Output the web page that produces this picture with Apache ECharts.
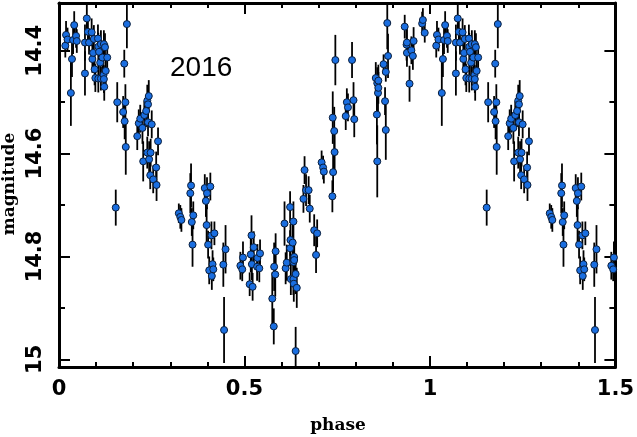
<!DOCTYPE html>
<html>
<head>
<meta charset="utf-8">
<script src="https://cdn.jsdelivr.net/npm/echarts@6/dist/echarts.min.js"></script>
<style>html,body{margin:0;padding:0;background:#fff}#c{width:637px;height:437px}</style>
</head>
<body>
<div id="c"></div>
<script>
// Observed phases (0..1), magnitudes and 1-sigma errors
const phase = [0.017,0.019,0.023,0.032,0.035,0.038,0.041,0.046,0.048,0.070,0.070,0.075,0.078,0.081,0.088,0.090,0.092,0.094,0.096,0.098,0.105,0.106,0.106,0.108,0.111,0.113,0.113,0.117,0.120,0.121,0.121,0.122,0.124,0.126,0.130,
0.153,0.157,0.173,0.176,0.177,0.179,0.180,0.183,
0.211,0.215,0.219,0.225,0.227,0.230,0.235,0.238,0.238,0.240,0.240,0.242,0.243,0.246,0.247,0.250,0.254,0.262,0.263,0.267,
0.323,0.327,0.330,0.354,0.356,0.358,0.360,0.362,0.393,0.396,0.398,0.399,0.402,0.405,0.408,0.411,0.412,0.414,0.416,0.419,0.443,0.445,0.449,
0.489,0.494,0.496,0.514,0.517,0.519,0.520,0.522,0.525,0.534,0.535,0.540,0.542,
0.575,0.579,0.580,0.583,0.584,0.608,0.611,0.614,0.623,0.623,0.624,0.625,0.630,0.632,0.632,0.632,0.633,0.634,0.634,0.638,0.638,0.641,
0.659,0.662,0.666,0.673,0.676,0.688,0.693,0.696,0.708,0.712,0.714,
0.737,0.738,0.739,0.742,0.743,0.745,0.773,0.776,0.779,0.790,0.794,0.796,
0.854,0.857,0.858,0.858,0.860,0.861,0.861,0.875,0.879,0.881,0.881,0.885,0.887,
0.932,0.937,0.938,0.938,0.945,0.950,0.954,0.956,0.979,0.981,0.986];

const mag = [14.390,14.369,14.378,14.482,14.416,14.379,14.350,14.371,14.381,14.384,14.444,14.337,14.363,14.384,14.364,14.416,14.404,14.377,14.436,14.453,14.376,14.392,14.454,14.402,14.423,14.387,14.454,14.413,14.447,14.387,14.455,14.470,14.393,14.439,14.413,
14.705,14.500,14.519,14.425,14.537,14.500,14.587,14.348,
14.566,14.541,14.532,14.550,14.615,14.525,14.517,14.497,14.598,14.504,14.539,14.488,14.611,14.642,14.598,14.543,14.650,14.627,14.661,14.576,
14.716,14.723,14.729,14.677,14.662,14.733,14.777,14.720,14.667,14.692,14.739,14.677,14.777,14.827,14.664,14.759,14.838,14.815,14.825,14.755,14.816,14.943,14.786,
14.818,14.825,14.802,14.854,14.796,14.759,14.815,14.859,14.782,14.820,14.803,14.823,14.794,
14.882,14.936,14.820,14.835,14.790,14.736,14.823,14.812,14.704,14.784,14.768,14.844,14.773,14.732,14.811,14.844,14.853,14.801,14.807,14.834,14.984,14.861,
14.688,14.632,14.671,14.671,14.707,14.749,14.797,14.755,14.617,14.627,14.635,
14.683,14.530,14.636,14.556,14.597,14.418,14.527,14.500,14.510,14.418,14.496,14.533,
14.453,14.524,14.615,14.463,14.482,14.458,14.472,14.426,14.498,14.441,14.554,14.346,14.410,
14.353,14.388,14.384,14.404,14.464,14.399,14.410,14.381,14.347,14.340,14.365];

const magErr = [0.023,0.027,0.023,0.064,0.035,0.027,0.027,0.023,0.023,0.035,0.043,0.031,0.027,0.023,0.027,0.027,0.031,0.027,0.031,0.027,0.027,0.027,0.027,0.027,0.035,0.027,0.023,0.027,0.027,0.027,0.027,0.027,0.027,0.027,0.027,
0.035,0.039,0.031,0.027,0.035,0.035,0.054,0.047,
0.027,0.027,0.027,0.031,0.039,0.027,0.031,0.031,0.031,0.027,0.027,0.031,0.035,0.027,0.027,0.027,0.027,0.031,0.031,0.027,
0.019,0.023,0.023,0.039,0.043,0.027,0.043,0.027,0.027,0.031,0.035,0.031,0.027,0.027,0.027,0.027,0.027,0.027,0.023,0.023,0.043,0.064,0.047,
0.027,0.023,0.031,0.023,0.035,0.039,0.031,0.027,0.031,0.027,0.027,0.027,0.027,
0.051,0.035,0.047,0.043,0.035,0.043,0.031,0.035,0.031,0.035,0.031,0.031,0.035,0.039,0.035,0.031,0.035,0.035,0.035,0.039,0.047,0.039,
0.027,0.027,0.031,0.027,0.027,0.031,0.035,0.027,0.023,0.023,0.023,
0.031,0.051,0.039,0.047,0.043,0.049,0.027,0.027,0.027,0.035,0.035,0.035,
0.031,0.058,0.070,0.031,0.035,0.031,0.031,0.019,0.027,0.019,0.058,0.051,0.043,
0.023,0.031,0.027,0.027,0.035,0.027,0.027,0.027,0.023,0.023,0.019];

const xTicks = [0, 0.5, 1, 1.5];
const yMajorTicks = [14.4, 14.6, 14.8, 15.0];
const yMinorTicks = [14.5, 14.7, 14.9];
const yearLabel = '2016';

// Phase-folded: repeat phases 0..0.5 after 1
const rows = [];
for (let i = 0; i < phase.length; i++) {
  rows.push([phase[i], mag[i], magErr[i]]);
  if (phase[i] + 1 <= 1.5) rows.push([phase[i] + 1, mag[i], magErr[i]]);
}

const labelFont = {fontFamily: 'DejaVu Sans', fontWeight: 'bold', fontSize: 21, color: '#000'};
const YMIN = 14.307, YMAX = 15.015;

function yAx(pos, ticks, len, labels, showLine) {
  return {
    type: 'value', position: pos, inverse: true, min: YMIN, max: YMAX,
    axisLine: {show: showLine, lineStyle: {color: '#000', width: 3}},
    axisTick: {show: true, inside: true, length: len, customValues: ticks, lineStyle: {color: '#000', width: 2}},
    axisLabel: labels ? Object.assign({show: true, customValues: ticks, rotate: 90, margin: 13,
      formatter: v => String(Math.round(v * 10) / 10)}, labelFont) : {show: false},
    splitLine: {show: false}
  };
}
function xAx(pos, labels) {
  return {
    type: 'value', position: pos, min: 0, max: 1.5, interval: 0.5,
    axisLine: {show: true, lineStyle: {color: '#000', width: 3}},
    axisTick: {show: true, inside: true, length: 11, lineStyle: {color: '#000', width: 2}},
    minorTick: {show: true, splitNumber: 5, length: 5, lineStyle: {color: '#000', width: 2}},
    axisLabel: labels ? Object.assign({show: true, margin: 12,
      formatter: v => xTicks.includes(v) ? String(v) : ''}, labelFont) : {show: false},
    splitLine: {show: false}, minorSplitLine: {show: false}
  };
}

const chart = echarts.init(document.getElementById('c'), null, {renderer: 'canvas'});
chart.setOption({
  animation: false,
  backgroundColor: '#fff',
  grid: {left: 59, right: 19, top: 3, bottom: 70, containLabel: false},
  xAxis: [xAx('bottom', true), xAx('top', false)],
  yAxis: [
    yAx('left', yMajorTicks, 11, true, true),
    yAx('left', yMinorTicks, 6, false, false),
    yAx('right', yMajorTicks, 11, false, true),
    yAx('right', yMinorTicks, 6, false, false)
  ],
  graphic: [
    {type: 'text', x: 338, y: 426, style: {text: 'phase', x: 0, y: 0, textAlign: 'center', textVerticalAlign: 'middle',
      font: 'bold 17px "DejaVu Serif"', fill: '#000'}},
    {type: 'text', x: 10, y: 184, rotation: Math.PI / 2, style: {text: 'magnitude', x: 0, y: 0, textAlign: 'center', textVerticalAlign: 'middle',
      font: 'bold 17px "DejaVu Serif"', fill: '#000'}},
    {type: 'text', x: 170, y: 68, style: {text: yearLabel, x: 0, y: 0, textAlign: 'left', textVerticalAlign: 'middle',
      font: '28px "Liberation Sans"', fill: '#000'}}
  ],
  series: [
    {
      type: 'custom', xAxisIndex: 0, yAxisIndex: 0, clip: true,
      data: rows, encode: {x: 0, y: 1},
      renderItem: function (params, api) {
        const x = api.value(0), y = api.value(1), e = api.value(2);
        const p1 = api.coord([x, y - e]), p2 = api.coord([x, y + e]);
        return {type: 'line', shape: {x1: p1[0], y1: p1[1], x2: p2[0], y2: p2[1]},
          style: {stroke: '#000', lineWidth: 1.8}};
      },
      z: 2
    },
    {
      type: 'scatter', xAxisIndex: 0, yAxisIndex: 0, clip: true,
      data: rows.map(r => [r[0], r[1]]),
      symbol: 'circle', symbolSize: 7,
      itemStyle: {color: '#1a6ee0', borderColor: '#0a1e3c', borderWidth: 1, opacity: 1},
      z: 3
    }
  ]
});
</script>
</body>
</html>
